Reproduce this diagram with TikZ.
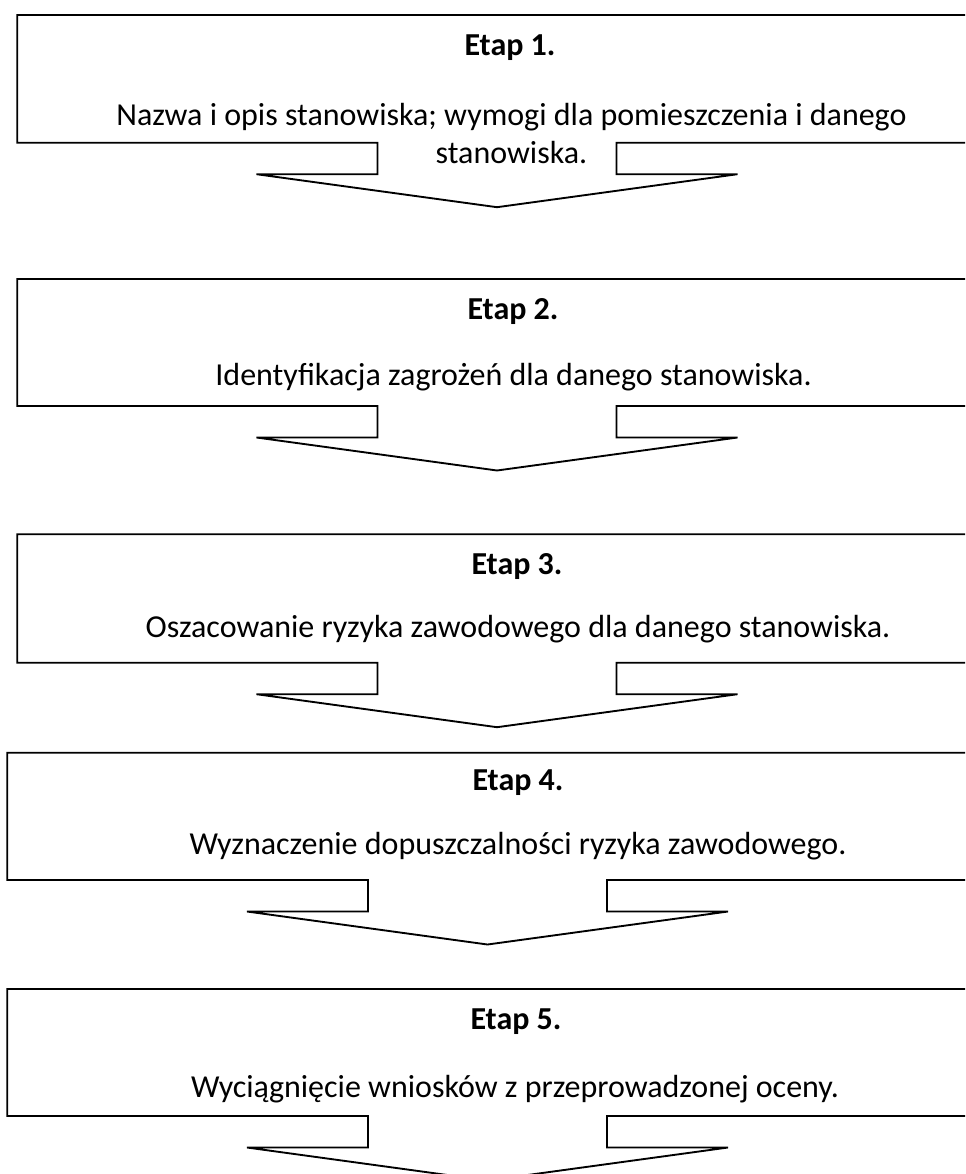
\documentclass[tikz,border=0pt]{standalone}
\usepackage{fontspec}
\setmainfont{Carlito}
\newcommand\stagecallout[5]{%
  % #1 left, #2 top, #3 bottom, #4 arrow centre, #5 name
  \draw[callout] (#1,#2) -- (1000,#2) -- (1000,#3)
    -- ({#4+119.5},#3) -- ({#4+119.5},{#3+31.5}) -- ({#4+240.5},{#3+31.5})
    -- (#4,{#3+64.5}) coordinate (#5tip)
    -- ({#4-240.5},{#3+31.5}) -- ({#4-119.5},{#3+31.5}) -- ({#4-119.5},#3)
    -- (#1,#3) -- cycle;}
\begin{document}
\begin{tikzpicture}[x=0.75pt,y=-0.75pt,
  callout/.style={draw=black,line width=1.4pt,line join=miter,fill=white},
  headtxt/.style={anchor=base,inner sep=0pt,font=\fontsize{24}{29}\selectfont\bfseries},
  bodytxt/.style={anchor=base,inner sep=0pt,font=\fontsize{24}{29}\selectfont}]
\clip (0,0) rectangle (965,1174);
\fill[white] (0,0) rectangle (965,1174);
\stagecallout{17.3}{15}{142.7}{497}{s1}
\stagecallout{17.3}{279}{406}{497}{s2}
\stagecallout{17.3}{534.3}{662.7}{497}{s3}
\stagecallout{7.3}{752.7}{880}{487.5}{s4}
\stagecallout{7.3}{989}{1116}{487.5}{s5}
\node[headtxt] (h1) at (510,55) {Etap 1.};
\node[bodytxt] (t1a) at (511.5,125) {Nazwa i opis stanowiska; wymogi dla pomieszczenia i danego};
\node[bodytxt] (t1b) at (511.5,163) {stanowiska.};
\node[headtxt] (h2) at (513,319) {Etap 2.};
\node[bodytxt] (t2) at (513.5,385) {Identyfikacja zagrożeń dla danego stanowiska.};
\node[headtxt] (h3) at (517,574) {Etap 3.};
\node[bodytxt] (t3) at (518,637) {Oszacowanie ryzyka zawodowego dla danego stanowiska.};
\node[headtxt] (h4) at (518,790) {Etap 4.};
\node[bodytxt] (t4) at (518,854) {Wyznaczenie dopuszczalności ryzyka zawodowego.};
\node[headtxt] (h5) at (516,1029) {Etap 5.};
\node[bodytxt] (t5) at (515,1097) {Wyciągnięcie wniosków z przeprowadzonej oceny.};
\end{tikzpicture}
\end{document}
